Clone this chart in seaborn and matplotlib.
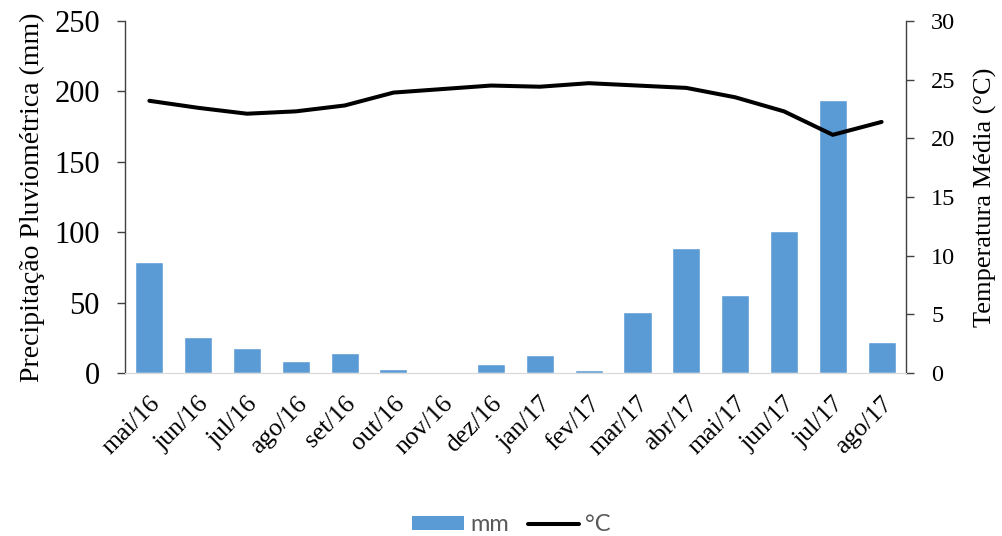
import matplotlib
matplotlib.use("Agg")
import matplotlib.pyplot as plt
from matplotlib.patches import Patch
from matplotlib.lines import Line2D
import seaborn as sns
import pandas as pd

months = ["mai/16", "jun/16", "jul/16", "ago/16", "set/16", "out/16", "nov/16", "dez/16",
          "jan/17", "fev/17", "mar/17", "abr/17", "mai/17", "jun/17", "jul/17", "ago/17"]
rain_mm = [79, 25.5, 18, 8.5, 14, 2.6, 0, 6.5, 12.8, 2.2, 43.6, 88.6, 55.2, 101.2, 193.8, 22.3]
temp_c = [23.2, 22.6, 22.1, 22.3, 22.8, 23.9, 24.2, 24.5, 24.4, 24.7, 24.5, 24.3, 23.5, 22.3, 20.3, 21.4]

df = pd.DataFrame({"mes": months, "mm": rain_mm, "temp": temp_c})

sns.set_style("white")
plt.rcParams["font.family"] = ["Liberation Serif", "DejaVu Serif"]
plt.rcParams["text.color"] = "black"
plt.rcParams["axes.labelcolor"] = "black"
plt.rcParams["xtick.color"] = "black"
plt.rcParams["ytick.color"] = "black"

BAR = "#5B9BD5"
LW = 2.9
fig = plt.figure(figsize=(10.03, 5.36), dpi=100)
ax = fig.add_axes([0.1246, 0.3041, 0.9033 - 0.1246, 0.9608 - 0.3041])

sns.barplot(data=df, x="mes", y="mm", color=BAR, saturation=1, width=0.575, ax=ax, zorder=2)
ax.set_ylim(0, 250)
ax.set_yticks([0, 50, 100, 150, 200, 250])
ax.set_xlim(-0.5, len(months) - 0.5)
ax.set_xlabel("")
ax.set_ylabel("Precipitação Pluviométrica (mm)", fontsize=20, labelpad=7)
ax.tick_params(axis="y", labelsize=22, direction="out", length=6, width=1,
               color="#404040", labelcolor="black", pad=12)
ax.tick_params(axis="x", labelsize=18.5, length=0, pad=14, labelcolor="black")
for lab in ax.get_xticklabels():
    lab.set_rotation(45)
    lab.set_ha("right")
    lab.set_rotation_mode("anchor")

ax2 = ax.twinx()
sns.lineplot(data=df, x="mes", y="temp", color="black", linewidth=LW, ax=ax2, sort=False)
ax2.set_ylim(0, 30)
ax2.set_yticks([0, 5, 10, 15, 20, 25, 30])
ax2.set_ylabel("Temperatura Média (°C)", fontsize=19, labelpad=13)
ax2.tick_params(axis="y", labelsize=17.5, direction="out", length=6, width=1,
                color="#404040", labelcolor="black", pad=12)
ax2.set_xlim(-0.5, len(months) - 0.5)

for a in (ax, ax2):
    a.spines["top"].set_visible(False)
    a.spines["left"].set_color("#404040")
    a.spines["right"].set_color("#404040")
    a.spines["bottom"].set_color("#d9d9d9")
    a.spines["left"].set_linewidth(1)
    a.spines["right"].set_linewidth(1)
    a.grid(False)
ax2.spines["left"].set_visible(False)
ax.spines["right"].set_visible(False)

handles = [Patch(facecolor=BAR, edgecolor="none"), Line2D([0], [0], color="black", linewidth=LW)]
leg = fig.legend(handles, ["mm", "°C"], loc="center", bbox_to_anchor=(0.51, 0.021), ncol=2,
                 frameon=False, handlelength=2.2, handleheight=0.55, handletextpad=0.25,
                 columnspacing=0.8, borderpad=0,
                 prop={"family": ["Lato", "DejaVu Sans"], "size": 17})
for t in leg.get_texts():
    t.set_color("#595959")

fig.savefig("out.png", dpi=100)
